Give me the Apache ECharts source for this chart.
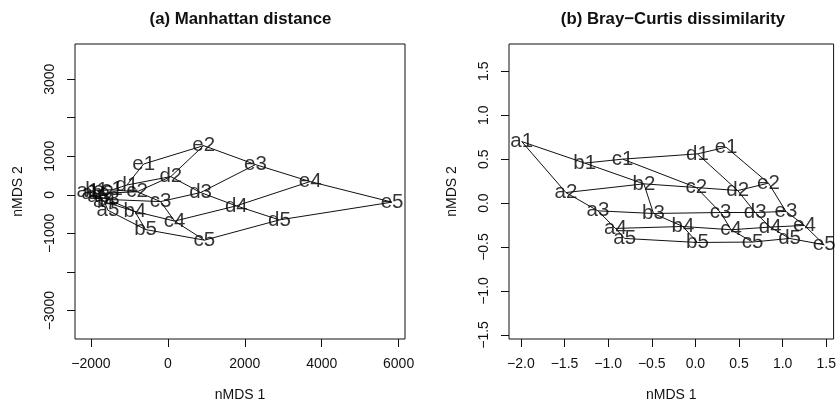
<!DOCTYPE html>
<html>
<head>
<meta charset="utf-8">
<script src="https://cdn.jsdelivr.net/npm/echarts@6.0.0/dist/echarts.min.js"></script>
<style>
html, body { margin: 0; padding: 0; background: #fff; }
#chart { width: 839px; height: 408px; }
</style>
</head>
<body>
<div id="chart"></div>
<script>
// sites: letter = first gradient, number = second gradient
const letters = ['a', 'b', 'c', 'd', 'e']
const numbers = ['1', '2', '3', '4', '5']

// (a) Manhattan distance, order a1..a5, b1..b5, ... e1..e5
const manX = [-2080, -1950, -1800, -1650, -1560,
              -1850, -1700, -1550, -860, -580,
              -1450, -800, -190, 175, 950,
              -1065, 75, 850, 1780, 2900,
              -631, 930, 2278, 3699, 5829]
const manY = [100, 40, -50, -180, -400,
              110, 40, -120, -430, -900,
              130, 80, -175, -680, -1175,
              255, 474, 60, -285, -650,
              800, 1277, 785, 345, -189]

// (b) Bray-Curtis dissimilarity, same order
const bcX = [-1.99, -1.484, -1.117, -0.916, -0.81,
             -1.268, -0.59, -0.48, -0.143, 0.023,
             -0.833, 0.011, 0.289, 0.409, 0.656,
             0.023, 0.485, 0.686, 0.857, 1.08,
             0.352, 0.838, 1.038, 1.25, 1.477]
const bcY = [0.70, 0.12, -0.088, -0.288, -0.402,
             0.455, 0.219, -0.118, -0.266, -0.448,
             0.5, 0.177, -0.107, -0.303, -0.443,
             0.56, 0.143, -0.107, -0.273, -0.402,
             0.636, 0.227, -0.095, -0.254, -0.474]

// ticks and labels
const manXTicks = [-2000, 0, 2000, 4000, 6000]
const manYTicks = [-3000, -2000, -1000, 0, 1000, 2000, 3000]
const manYLabels = [-3000, -1000, 0, 1000, 3000]
const bcXTicks = [-2, -1.5, -1, -0.5, 0, 0.5, 1, 1.5]
const bcYTicks = [-1.5, -1, -0.5, 0, 0.5, 1, 1.5]

const titles = ['(a) Manhattan distance', '(b) Bray\u2212Curtis dissimilarity']

const FONT = 'Liberation Sans'
const INK = '#111'

// labels like R: unicode minus
function fmt(v, dec) {
    let s = dec ? Math.abs(v).toFixed(1) : String(Math.abs(v))
    return v < 0 ? '\u2212' + s : s
}

function makeAxis(grid, min, max, ticks, labels, dec, isY, name) {
    return {
        type: 'value',
        gridIndex: grid,
        min: min,
        max: max,
        name: name,
        nameLocation: 'middle',
        nameGap: isY ? 50 : 49,
        nameTextStyle: { fontFamily: FONT, fontSize: 14, color: INK },
        axisLine: { show: false, onZero: false },
        splitLine: { show: false },
        axisTick: {
            show: true, inside: false, length: 8,
            customValues: ticks,
            lineStyle: { color: INK, width: 1 }
        },
        axisLabel: {
            customValues: labels,
            margin: 18,
            rotate: isY ? 90 : 0,
            fontFamily: FONT, fontSize: 14, color: INK,
            formatter: v => fmt(v, dec)
        }
    }
}

function lineSeries(pts, idx) {
    return {
        type: 'line',
        xAxisIndex: idx, yAxisIndex: idx,
        data: pts,
        symbol: 'none',
        silent: true,
        lineStyle: { color: INK, width: 1 }
    }
}

// grid lines across letters and along numbers, plus the site labels
function panelSeries(xs, ys, idx) {
    let series = []
    for (let j = 0; j < 5; j++) {
        let pts = []
        for (let i = 0; i < 5; i++) pts.push([xs[i * 5 + j], ys[i * 5 + j]])
        series.push(lineSeries(pts, idx))
    }
    for (let i = 0; i < 5; i++) {
        let pts = []
        for (let j = 0; j < 5; j++) pts.push([xs[i * 5 + j], ys[i * 5 + j]])
        series.push(lineSeries(pts, idx))
    }
    let sites = []
    for (let i = 0; i < 5; i++) {
        for (let j = 0; j < 5; j++) {
            sites.push({ name: letters[i] + numbers[j], value: [xs[i * 5 + j], ys[i * 5 + j]] })
        }
    }
    series.push({
        type: 'scatter',
        xAxisIndex: idx, yAxisIndex: idx,
        data: sites,
        symbolSize: 1,
        itemStyle: { color: 'rgba(0,0,0,0)' },
        label: {
            show: true, position: 'inside',
            formatter: p => p.name,
            fontFamily: FONT, fontSize: 20.5, color: '#000'
        }
    })
    return series
}

const chart = echarts.init(document.getElementById('chart'), null, { renderer: 'canvas' })

const options = {
    animation: false,
    backgroundColor: '#fff',
    title: [
        { text: titles[0], left: 240.5, top: 11, textAlign: 'center', padding: 0,
          textStyle: { fontFamily: FONT, fontSize: 16.8, fontWeight: 'bold', color: INK } },
        { text: titles[1], left: 673, top: 11, textAlign: 'center', padding: 0,
          textStyle: { fontFamily: FONT, fontSize: 16.8, fontWeight: 'bold', color: INK } }
    ],
    grid: [
        { left: 75, top: 44, width: 330, height: 295, show: true,
          borderColor: INK, borderWidth: 1, backgroundColor: 'transparent' },
        { left: 509, top: 44, width: 327, height: 295, show: true,
          borderColor: INK, borderWidth: 1, backgroundColor: 'transparent' }
    ],
    xAxis: [
        makeAxis(0, -2416, 6166, manXTicks, manXTicks, false, false, 'nMDS 1'),
        makeAxis(1, -2.136, 1.584, bcXTicks, bcXTicks, true, false, 'nMDS 1')
    ],
    yAxis: [
        makeAxis(0, -3738, 3912, manYTicks, manYLabels, false, true, 'nMDS 2'),
        makeAxis(1, -1.546, 1.81, bcYTicks, bcYTicks, true, true, 'nMDS 2')
    ],
    series: panelSeries(manX, manY, 0).concat(panelSeries(bcX, bcY, 1))
}

chart.setOption(options)
</script>
</body>
</html>
